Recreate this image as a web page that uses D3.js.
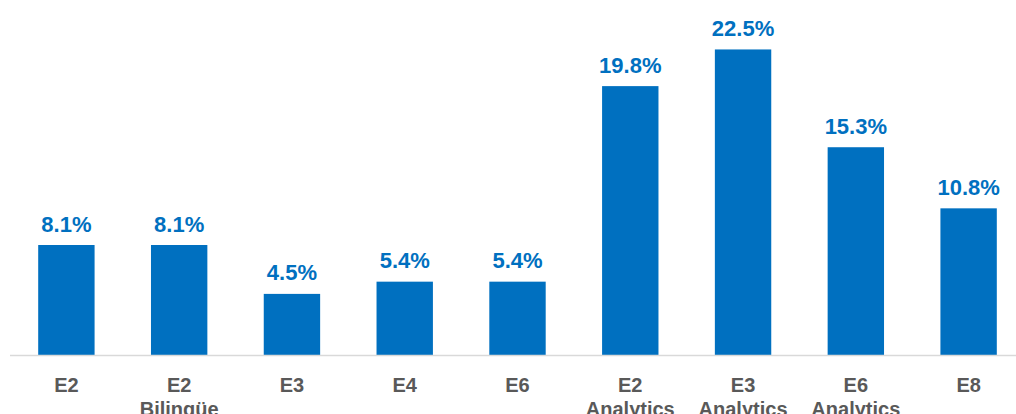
<!DOCTYPE html>
<html>
<head>
<meta charset="utf-8">
<script src="https://cdn.jsdelivr.net/npm/d3@7/dist/d3.min.js"></script>
<style>
  html, body { margin: 0; padding: 0; background: #fff; }
  svg { display: block; }
</style>
</head>
<body>
<svg id="chart" width="1016" height="414"></svg>
<script>
// Category labels (multi-line) and share values in percent
const categories = [
  ["E2"], ["E2", "Bilingüe"], ["E3"], ["E4"], ["E6"],
  ["E2", "Analytics"], ["E3", "Analytics"], ["E6", "Analytics"], ["E8"]
];
const values = [8.1, 8.1, 4.5, 5.4, 5.4, 19.8, 22.5, 15.3, 10.8];
const valueLabels = ["8.1%", "8.1%", "4.5%", "5.4%", "5.4%", "19.8%", "22.5%", "15.3%", "10.8%"];

const W = 1016, H = 414;
const baseY = 355;
const font = "'Liberation Sans', Arial, Helvetica, sans-serif";
const blue = "#0070C0";

const svg = d3.select("#chart");

const keys = categories.map((c, i) => i);
const x = d3.scaleBand()
  .domain(keys)
  .range([10, 1025])
  .paddingInner(0.5)
  .paddingOuter(0.25);

const y = d3.scaleLinear()
  .domain([0, 25])
  .range([baseY, 15.5]);

// Bars
svg.append("g")
  .selectAll("rect")
  .data(values)
  .join("rect")
  .attr("x", (d, i) => x(i))
  .attr("width", x.bandwidth())
  .attr("y", d => y(d))
  .attr("height", d => y(0) - y(d))
  .attr("fill", blue);

// Baseline
svg.append("line")
  .attr("x1", 10).attr("x2", W)
  .attr("y1", baseY + 0.5).attr("y2", baseY + 0.5)
  .attr("stroke", "#d9d9d9")
  .attr("stroke-width", 1.5);

// Value labels
svg.append("g")
  .selectAll("text")
  .data(values)
  .join("text")
  .attr("x", (d, i) => x(i) + x.bandwidth() / 2)
  .attr("y", d => y(d) - 13.5)
  .attr("text-anchor", "middle")
  .attr("font-family", font)
  .attr("font-weight", "bold")
  .attr("font-size", 22)
  .attr("fill", blue)
  .text((d, i) => valueLabels[i]);

// Category labels
const cat = svg.append("g")
  .selectAll("text")
  .data(categories)
  .join("text")
  .attr("x", (d, i) => x(i) + x.bandwidth() / 2)
  .attr("y", 392)
  .attr("text-anchor", "middle")
  .attr("font-family", font)
  .attr("font-weight", "bold")
  .attr("font-size", 20)
  .attr("fill", "#595959");

cat.selectAll("tspan")
  .data(d => d)
  .join("tspan")
  .attr("x", function () { return d3.select(this.parentNode).attr("x"); })
  .attr("dy", (d, j) => j === 0 ? 0 : 23.5)
  .text(d => d);
</script>
</body>
</html>
